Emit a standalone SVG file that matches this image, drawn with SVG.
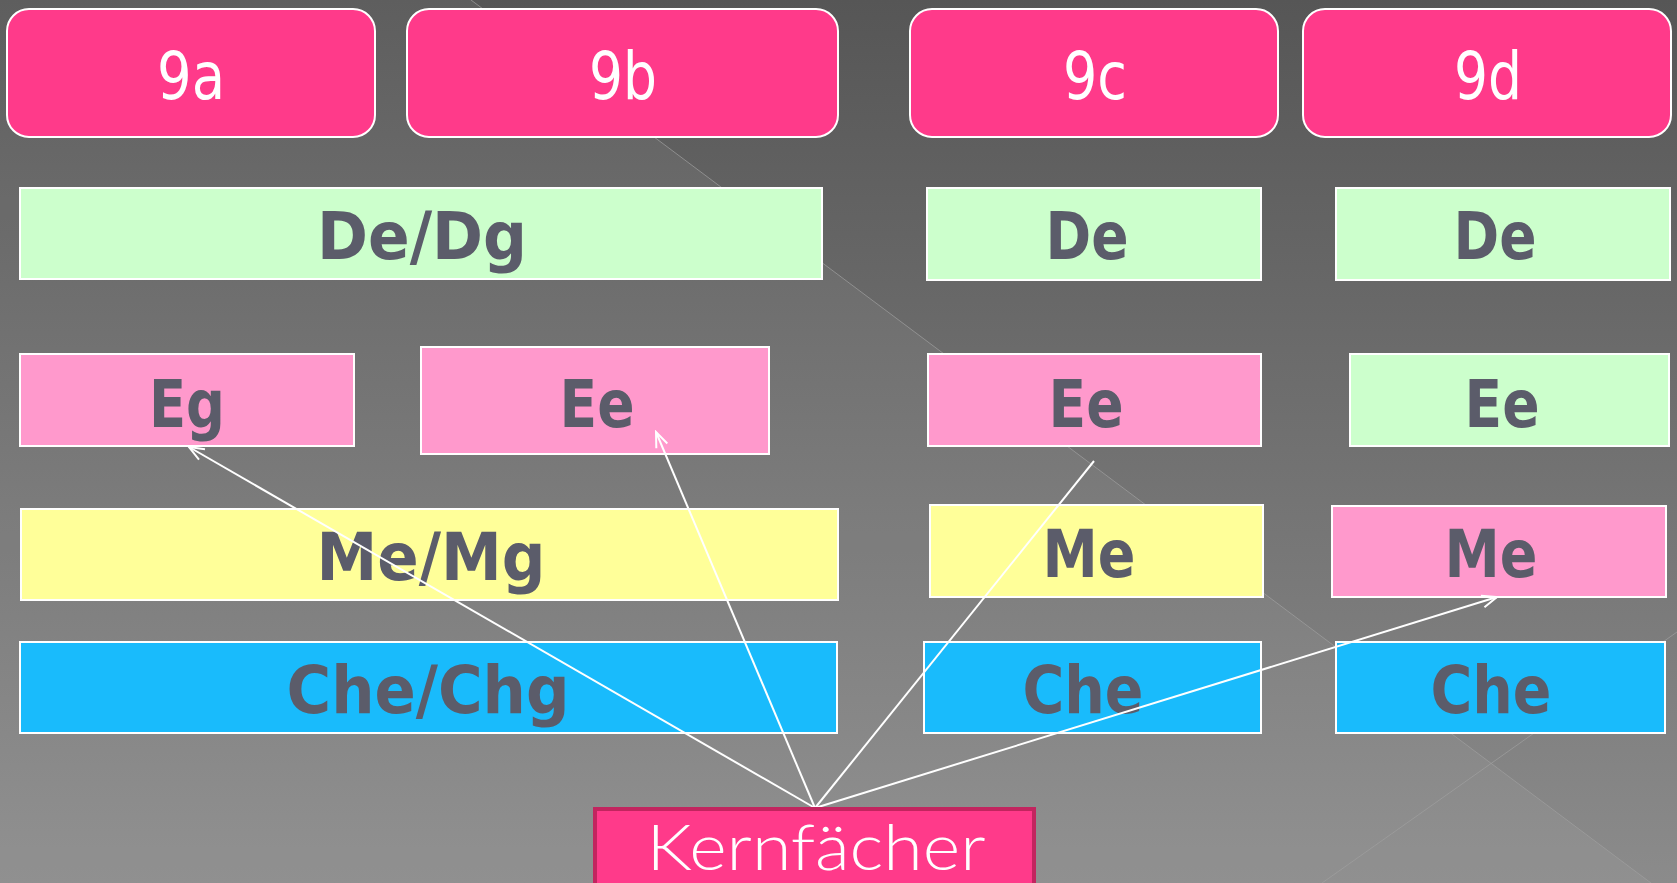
<svg xmlns="http://www.w3.org/2000/svg" width="1677" height="883" viewBox="0 0 1677 883">
<defs>
<linearGradient id="bg" x1="0" y1="0" x2="0" y2="1">
<stop offset="0" stop-color="#565656"/>
<stop offset="1" stop-color="#8b8b8b"/>
</linearGradient>
<marker id="arr" viewBox="0 0 18 14" refX="16" refY="7" markerWidth="18" markerHeight="14" markerUnits="userSpaceOnUse" orient="auto">
<path d="M1,1 L16,7 L1,13" fill="none" stroke="#ffffff" stroke-width="2"/>
</marker>
<style>
.hdr{fill:#ff3a8a;stroke:#ffffff;stroke-width:2}
.hdrt{font-family:"DejaVu Sans Condensed","DejaVu Sans",sans-serif;font-stretch:condensed;font-size:66px;fill:#ffffff;text-anchor:middle}
.box{stroke:#ffffff;stroke-width:2}
.g{fill:#ccffcc}.p{fill:#ff99cc}.y{fill:#ffff99}.c{fill:#19bbfc}
.lbl{font-family:"DejaVu Sans Condensed","DejaVu Sans",sans-serif;font-stretch:condensed;font-weight:bold;font-size:66px;fill:#5b5c6a;text-anchor:middle}
.con{stroke:#ffffff;stroke-width:2;fill:none}
.deco{stroke:#a0a0a0;stroke-width:1;fill:none;opacity:0.7}
</style>
</defs>
<rect x="0" y="0" width="1677" height="883" fill="url(#bg)"/>
<polygon points="0,0 471,0 1651,883 0,883" fill="#ffffff" opacity="0.05"/>
<line class="deco" x1="471" y1="0" x2="1651" y2="883"/>
<line class="deco" x1="1322" y1="883" x2="1677" y2="632"/>

<g id="n9a"><rect class="hdr" x="7" y="9" width="368" height="128" rx="22"/><text class="hdrt" x="191" y="99" textLength="68" lengthAdjust="spacingAndGlyphs">9a</text></g>
<g id="n9b"><rect class="hdr" x="407" y="9" width="431" height="128" rx="22"/><text class="hdrt" x="623" y="99" textLength="68" lengthAdjust="spacingAndGlyphs">9b</text></g>
<g id="n9c"><rect class="hdr" x="910" y="9" width="368" height="128" rx="22"/><text class="hdrt" x="1095" y="99" textLength="64" lengthAdjust="spacingAndGlyphs">9c</text></g>
<g id="n9d"><rect class="hdr" x="1303" y="9" width="368" height="128" rx="22"/><text class="hdrt" x="1488" y="99" textLength="68" lengthAdjust="spacingAndGlyphs">9d</text></g>

<g id="dedg"><rect class="box g" x="20" y="188" width="802" height="91"/><text class="lbl" x="422" y="259" textLength="210" lengthAdjust="spacingAndGlyphs">De/Dg</text></g>
<g id="de9c"><rect class="box g" x="927" y="188" width="334" height="92"/><text class="lbl" x="1087" y="259" textLength="83" lengthAdjust="spacingAndGlyphs">De</text></g>
<g id="de9d"><rect class="box g" x="1336" y="188" width="334" height="92"/><text class="lbl" x="1495" y="259" textLength="83" lengthAdjust="spacingAndGlyphs">De</text></g>

<g id="eg"><rect class="box p" x="20" y="354" width="334" height="92"/><text class="lbl" x="187" y="427" textLength="76" lengthAdjust="spacingAndGlyphs">Eg</text></g>
<g id="ee9b"><rect class="box p" x="421" y="347" width="348" height="107"/><text class="lbl" x="597" y="427" textLength="75" lengthAdjust="spacingAndGlyphs">Ee</text></g>
<g id="ee9c"><rect class="box p" x="928" y="354" width="333" height="92"/><text class="lbl" x="1086" y="427" textLength="75" lengthAdjust="spacingAndGlyphs">Ee</text></g>
<g id="ee9d"><rect class="box g" x="1350" y="354" width="319" height="92"/><text class="lbl" x="1502" y="427" textLength="75" lengthAdjust="spacingAndGlyphs">Ee</text></g>

<g id="memg"><rect class="box y" x="21" y="509" width="817" height="91"/><text class="lbl" x="431" y="580" textLength="229" lengthAdjust="spacingAndGlyphs">Me/Mg</text></g>
<g id="me9c"><rect class="box y" x="930" y="505" width="333" height="92"/><text class="lbl" x="1089" y="577" textLength="93" lengthAdjust="spacingAndGlyphs">Me</text></g>
<g id="me9d"><rect class="box p" x="1332" y="506" width="334" height="91"/><text class="lbl" x="1491" y="577" textLength="93" lengthAdjust="spacingAndGlyphs">Me</text></g>

<g id="chechg"><rect class="box c" x="20" y="642" width="817" height="91"/><text class="lbl" x="428" y="713" textLength="283" lengthAdjust="spacingAndGlyphs">Che/Chg</text></g>
<g id="che9c"><rect class="box c" x="924" y="642" width="337" height="91"/><text class="lbl" x="1083" y="713" textLength="121" lengthAdjust="spacingAndGlyphs">Che</text></g>
<g id="che9d"><rect class="box c" x="1336" y="642" width="329" height="91"/><text class="lbl" x="1491" y="713" textLength="121" lengthAdjust="spacingAndGlyphs">Che</text></g>

<g id="connectors">
<line class="con" x1="815" y1="808" x2="189" y2="447" marker-end="url(#arr)"/>
<line class="con" x1="815" y1="808" x2="656" y2="432" marker-end="url(#arr)"/>
<line class="con" x1="815" y1="808" x2="1094" y2="461" stroke-width="1.5"/>
<line class="con" x1="815" y1="808" x2="1497" y2="597" marker-end="url(#arr)" stroke-width="2.5"/>
</g>

<g id="kernfaecher"><rect x="595" y="809" width="439" height="78" fill="#ff3a8a" stroke="#c2255f" stroke-width="4"/><text x="816" y="870" font-family="Lato, 'Noto Sans', sans-serif" font-weight="300" font-size="63" fill="#ffffff" text-anchor="middle" textLength="339" lengthAdjust="spacingAndGlyphs">Kernfächer</text></g>
</svg>
